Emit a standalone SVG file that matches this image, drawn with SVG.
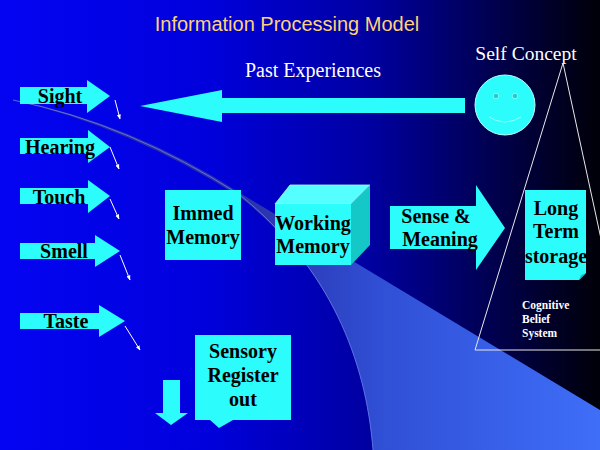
<svg xmlns="http://www.w3.org/2000/svg" width="600" height="450" viewBox="0 0 600 450">
<defs>
<linearGradient id="bg" x1="0" y1="0" x2="600" y2="0" gradientUnits="userSpaceOnUse">
<stop offset="0" stop-color="#0404f2"/>
<stop offset="0.35" stop-color="#0000dc"/>
<stop offset="0.62" stop-color="#0000a0"/>
<stop offset="0.82" stop-color="#000050"/>
<stop offset="1" stop-color="#000008"/>
</linearGradient>
<linearGradient id="wedge" x1="240" y1="0" x2="600" y2="0" gradientUnits="userSpaceOnUse">
<stop offset="0" stop-color="#2a30a8"/>
<stop offset="0.4" stop-color="#3050d6"/>
<stop offset="1" stop-color="#3f6ef8"/>
</linearGradient>
<marker id="ah" viewBox="0 0 10 10" refX="9" refY="5" markerWidth="5" markerHeight="5" orient="auto">
<path d="M0,1 L10,5 L0,9 Z" fill="#ffffff"/>
</marker>
<style>
.cy{fill:#2cfcfc;}
.lbl{font-family:'Liberation Serif','Times New Roman',serif;font-weight:bold;font-size:20px;fill:#000000;text-anchor:middle;}
.wt{font-family:'Liberation Serif','Times New Roman',serif;fill:#ffffff;}
.thin{stroke:#ffffff;stroke-width:1;fill:none;marker-end:url(#ah);}
</style>
</defs>
<rect x="0" y="0" width="600" height="450" fill="url(#bg)"/>
<path d="M13,100 Q130,122 240,193 L600,410 L600,450 L373,450 C366,360 330,268 240,197 Q130,127 13,100 Z" fill="url(#wedge)"/>
<path d="M13,100 Q130,124 240,195 C330,268 366,360 373,450" fill="none" stroke="#6f7ee8" stroke-width="0.8"/>

<text x="287" y="31" font-family="Liberation Sans, Arial, sans-serif" font-size="20" fill="#ffd27a" text-anchor="middle">Information Processing Model</text>
<text class="wt" x="313" y="77" font-family="Liberation Serif, Times New Roman, serif" font-size="20" text-anchor="middle">Past Experiences</text>
<text class="wt" x="526" y="60" font-family="Liberation Serif, Times New Roman, serif" font-size="19.5" text-anchor="middle">Self Concept</text>

<g id="triangle">
<polygon points="563,63 475,350 625,350" fill="none" stroke="#e8e8e8" stroke-width="1"/>
</g>

<g id="smiley">
<circle cx="505" cy="105" r="30" class="cy" stroke="#bff" stroke-width="1"/>
<circle cx="496" cy="96" r="2.8" fill="#22cccc" stroke="#9ff" stroke-width="0.8"/>
<circle cx="515" cy="96" r="2.8" fill="#22cccc" stroke="#9ff" stroke-width="0.8"/>
<path d="M489,117 Q505,127 521,117" fill="none" stroke="#9ff" stroke-width="1"/>
</g>

<g id="past-arrow">
<polygon class="cy" points="140,106 222,90 222,98 465,98 465,113 222,113 222,122"/>
</g>

<g id="sight">
<polygon class="cy" points="20,87 87,87 87,80 110,96 87,113 87,104 20,104"/>
<text class="lbl" x="60" y="103">Sight</text>
</g>
<g id="hearing">
<polygon class="cy" points="20,138 88,138 88,130 110,147 88,163 88,154 20,154"/>
<text class="lbl" x="60" y="154">Hearing</text>
</g>
<g id="touch">
<polygon class="cy" points="20,188 88,188 88,180 110,196 88,213 88,204 20,204"/>
<text class="lbl" x="59" y="204">Touch</text>
</g>
<g id="smell">
<polygon class="cy" points="20,243 95,243 95,235 120,251 95,267 95,259 20,259"/>
<text class="lbl" x="64" y="258">Smell</text>
</g>
<g id="taste">
<polygon class="cy" points="20,313 99,313 99,305 125,321 99,337 99,329 20,329"/>
<text class="lbl" x="66" y="328">Taste</text>
</g>

<g id="immed-memory">
<rect class="cy" x="165" y="190" width="76" height="70"/>
<text class="lbl" x="203" y="220" font-size="19">Immed</text>
<text class="lbl" x="203" y="244" font-size="19">Memory</text>
</g>

<g id="working-memory">
<polygon points="275,204 290,185 370,185 351,204" fill="#55ffff" stroke="#aaffff" stroke-width="0.8"/>
<polygon points="351,204 370,185 370,245 351,265" fill="#14c8c8"/>
<rect class="cy" x="275" y="204" width="76" height="61"/>
<text class="lbl" x="313" y="230" font-size="19">Working</text>
<text class="lbl" x="313" y="253" font-size="19">Memory</text>
</g>

<g id="sense-meaning">
<polygon class="cy" points="390,206 476,206 476,185 505,228 476,270 476,249 390,249"/>
<text class="lbl" x="436" y="223" font-size="19.5">Sense &amp;</text>
<text class="lbl" x="440" y="246" font-size="19.5">Meaning</text>
</g>

<g id="long-term">
<path class="cy" d="M525,190 L586,190 L586,273 L579,280 L525,280 Z"/>
<path d="M579,280 L581,275 L586,273" fill="#14c8c8"/>
<text class="lbl" x="556" y="215">Long</text>
<text class="lbl" x="556" y="238">Term</text>
<text class="lbl" x="556" y="263">storage</text>
</g>

<g id="cognitive">
<text class="wt" x="522" y="309" font-family="Liberation Serif, Times New Roman, serif" font-size="11.5" font-weight="bold">Cognitive</text>
<text class="wt" x="522" y="323" font-family="Liberation Serif, Times New Roman, serif" font-size="11.5" font-weight="bold">Belief</text>
<text class="wt" x="522" y="337" font-family="Liberation Serif, Times New Roman, serif" font-size="11.5" font-weight="bold">System</text>
</g>

<g id="sensory-register">
<path class="cy" d="M195,335 L291,335 L291,420 L233,420 L219,428 L210,420 L195,420 Z"/>
<text class="lbl" x="243" y="358">Sensory</text>
<text class="lbl" x="243" y="382">Register</text>
<text class="lbl" x="243" y="406">out</text>
</g>

<g id="down-arrow">
<polygon class="cy" points="163,380 180,380 180,413 188,413 171,425 155,413 163,413"/>
</g>

<g id="connectors">
<line class="thin" x1="115" y1="100" x2="120" y2="119"/>
<line class="thin" x1="110" y1="147" x2="119" y2="169"/>
<line class="thin" x1="110" y1="199" x2="119" y2="219"/>
<line class="thin" x1="120" y1="255" x2="130" y2="280"/>
<line class="thin" x1="125" y1="326" x2="140" y2="350"/>
</g>
</svg>
